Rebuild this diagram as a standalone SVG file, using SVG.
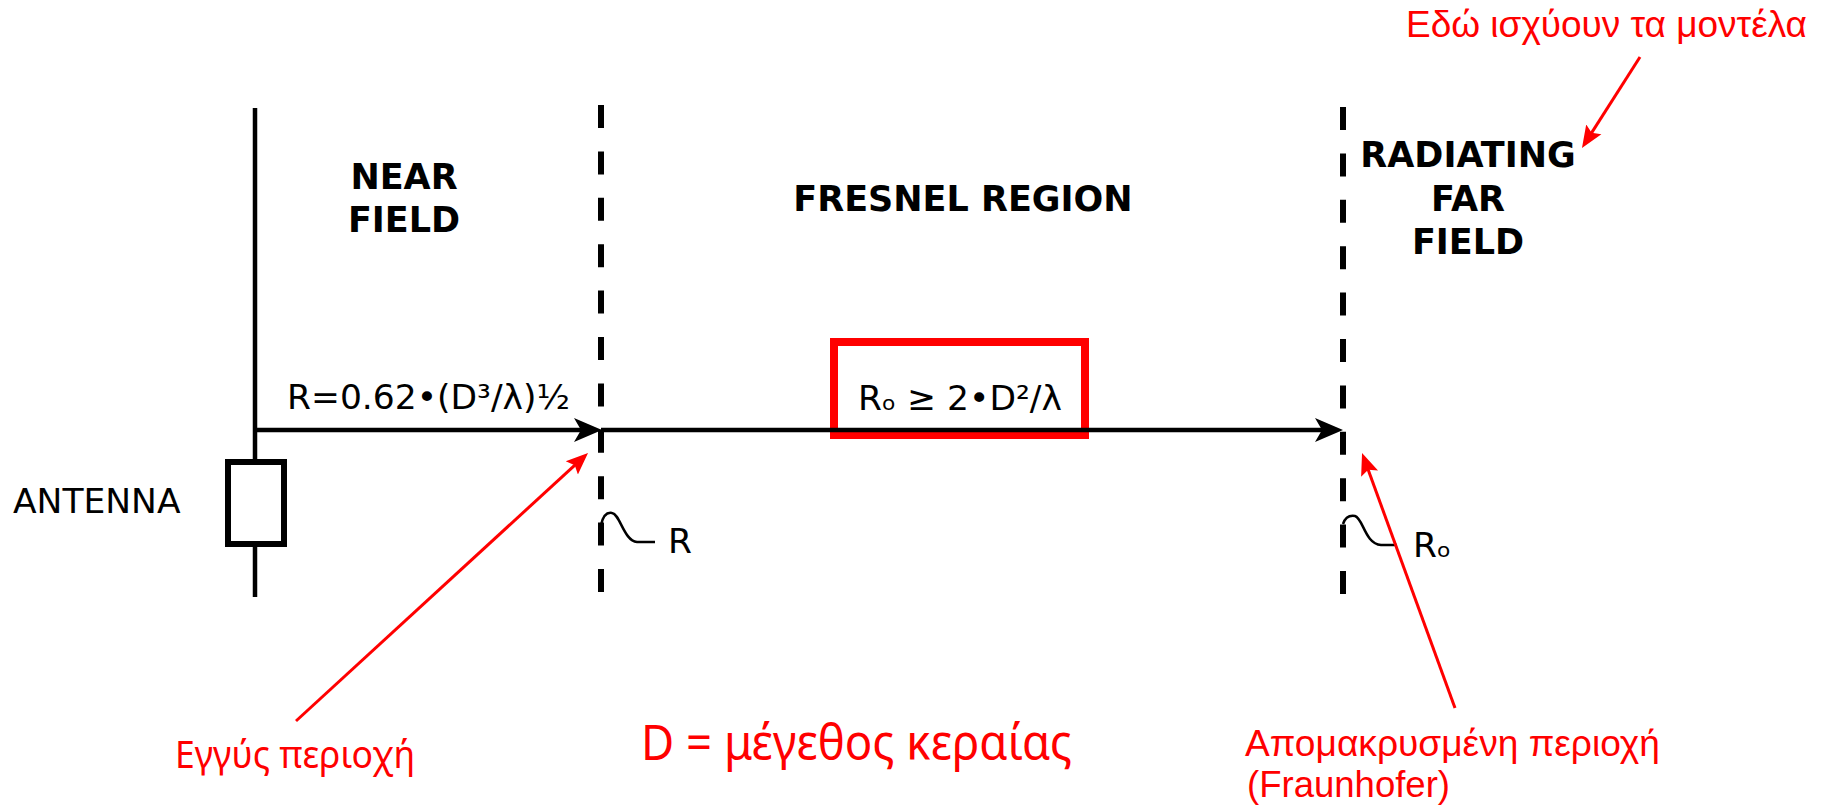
<svg xmlns="http://www.w3.org/2000/svg" width="1822" height="806" viewBox="0 0 1822 806">
<style>
.hd{font-family:"DejaVu Sans",sans-serif;font-weight:bold;font-size:35px;fill:#000;text-anchor:middle}
.bk{font-family:"DejaVu Sans",sans-serif;font-size:34.5px;fill:#000}
.rd{font-family:"Liberation Sans",Arial,sans-serif;font-size:37px;fill:#f00}
.rd2{font-family:"Noto Sans","Open Sans",sans-serif;fill:#f00}
.dash{stroke:#000;stroke-width:6;stroke-dasharray:23 23.4;fill:none}
.ax{stroke:#000;stroke-width:4.5;fill:none}
.ra{stroke:#f00;stroke-width:3;fill:none}
.sq{stroke:#000;stroke-width:2.5;fill:none}
</style>
<defs>
<marker id="ah" markerUnits="userSpaceOnUse" markerWidth="32" markerHeight="28" refX="16" refY="14" orient="auto">
<path d="M1,2 L29,14 L1,26 L8,14 Z" fill="#000"/>
</marker>
<marker id="rh" markerUnits="userSpaceOnUse" markerWidth="26" markerHeight="22" refX="16" refY="11" orient="auto">
<path d="M0,2 L22,11 L0,20 L4,11 Z" fill="#f00"/>
</marker>
</defs>
<rect width="1822" height="806" fill="#fff"/>

<g id="antenna">
<line x1="255" y1="108" x2="255" y2="462" class="ax"/>
<line x1="255" y1="544" x2="255" y2="597" class="ax"/>
<rect x="228" y="462" width="56" height="82" fill="#fff" stroke="#000" stroke-width="6"/>
<text x="13" y="513" class="bk">ANTENNA</text>
</g>

<g id="boundary-near">
<line x1="601" y1="105" x2="601" y2="593" class="dash"/>
<path d="M601,525 C603,516 607,512 612,513 C620,514 624,541 637,542 L655,542" class="sq"/>
<text x="668" y="553" class="bk" font-size="33">R</text>
</g>

<g id="boundary-far">
<line x1="1343" y1="107" x2="1343" y2="594" class="dash"/>
<path d="M1343,524 C1345,518 1349,515 1355,516 C1363,518 1365,544 1381,545 L1397,545" class="sq"/>
<text x="1413" y="557" class="bk" font-size="33">Rₒ</text>
</g>

<g id="near-field">
<text class="hd"><tspan x="404" y="189">NEAR</tspan><tspan x="404" y="232">FIELD</tspan></text>
</g>

<g id="fresnel">
<text x="963" y="211" class="hd">FRESNEL REGION</text>
</g>

<g id="far-field">
<text class="hd"><tspan x="1468" y="167">RADIATING</tspan><tspan x="1468" y="211">FAR</tspan><tspan x="1468" y="254">FIELD</tspan></text>
</g>

<g id="formula-near">
<text x="287" y="409" class="bk">R=0.62•(D³/λ)½</text>
</g>

<g id="formula-far">
<rect x="834" y="342" width="251" height="93" fill="#fff" stroke="#f00" stroke-width="8"/>
<text x="858" y="410" class="bk">Rₒ ≥ 2•D²/λ</text>
</g>

<g id="connectors">
<line x1="253" y1="430" x2="589" y2="430" class="ax" marker-end="url(#ah)"/>
<line x1="601" y1="430" x2="1330" y2="430" class="ax" marker-end="url(#ah)"/>
<line x1="296" y1="721" x2="583.6" y2="457.1" class="ra" marker-end="url(#rh)"/>
<line x1="1640" y1="57" x2="1585.2" y2="142.9" class="ra" marker-end="url(#rh)"/>
<line x1="1455" y1="708" x2="1364.1" y2="458.6" class="ra" marker-end="url(#rh)"/>
</g>

<g id="label-models">
<text x="1406" y="37" class="rd" textLength="401" lengthAdjust="spacingAndGlyphs">Εδώ ισχύουν τα μοντέλα</text>
</g>

<g id="label-near">
<text x="175" y="768" class="rd2" font-size="38" textLength="240" lengthAdjust="spacingAndGlyphs">Εγγύς περιοχή</text>
</g>

<g id="label-size">
<text x="641" y="760" class="rd2" font-size="49" textLength="431" lengthAdjust="spacingAndGlyphs">D = μέγεθος κεραίας</text>
</g>

<g id="label-far">
<text class="rd"><tspan x="1245" y="756" textLength="415" lengthAdjust="spacingAndGlyphs">Απομακρυσμένη περιοχή</tspan><tspan x="1247" y="797" textLength="203" lengthAdjust="spacingAndGlyphs">(Fraunhofer)</tspan></text>
</g>
</svg>
